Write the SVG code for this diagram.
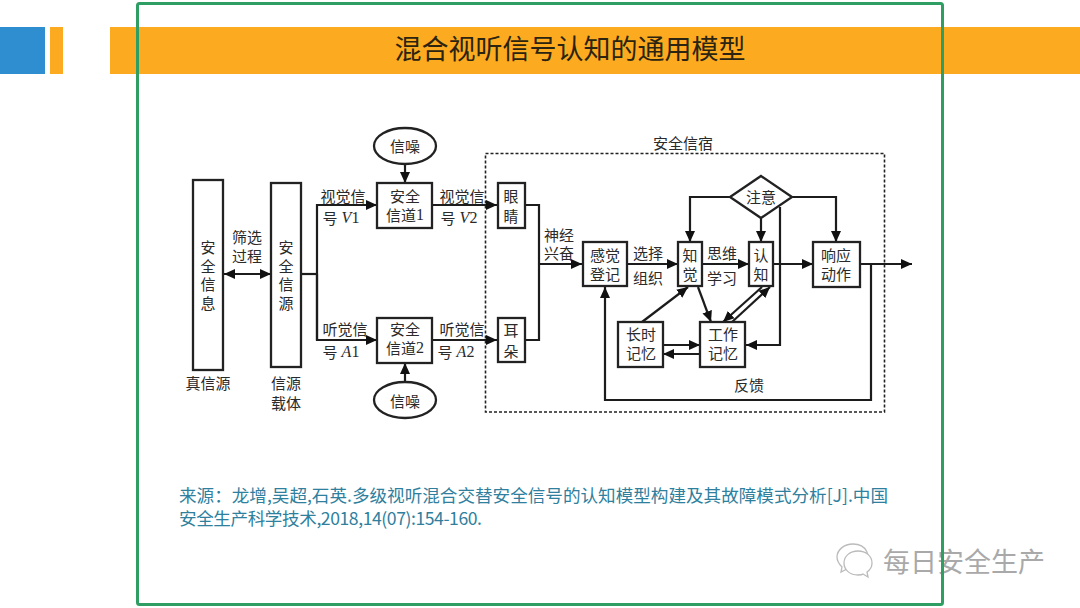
<svg xmlns="http://www.w3.org/2000/svg" width="1080" height="608" viewBox="0 0 1080 608">
<style>
text{font-family:"Noto Sans CJK SC","Noto Sans",sans-serif}
.t{font-size:15px;fill:#2a2a2a;text-anchor:middle;dominant-baseline:central}
.b{fill:#fff;stroke:#222;stroke-width:2.300}
.c path{fill:none;stroke:#1c1c1c;stroke-width:2.200}
.a{marker-end:url(#ah)}
.l{font-family:"Liberation Serif",serif;font-style:italic;font-size:16px}
.n{font-family:"Liberation Serif",serif;font-size:16px}
.w{fill:#fff;stroke:#bbb;stroke-width:1.300}
</style>
<defs><marker id="ah" markerUnits="userSpaceOnUse" markerWidth="12" markerHeight="11" refX="11" refY="5.500" orient="auto"><path d="M0 0.500L11 5.500L0 10.500Z" fill="#111"/></marker>
<marker id="as" markerUnits="userSpaceOnUse" markerWidth="12" markerHeight="11" refX="1" refY="5.500" orient="auto"><path d="M12 0.500L1 5.500L12 10.500Z" fill="#111"/></marker></defs>
<rect width="1080" height="608" fill="#fff"/>
<g id="header">
<rect x="0" y="27" width="45" height="47" fill="#2e8ecf"/>
<rect x="50" y="27" width="13" height="47" fill="#fcaa20"/>
<rect x="110" y="27" width="970" height="47" fill="#fcaa20"/>
<text x="570" y="47" font-size="27" fill="#2b2410" text-anchor="middle" dominant-baseline="central">混合视听信号认知的通用模型</text>
</g>
<g id="region-safe"><rect x="485.500" y="153.500" width="399" height="258.500" fill="none" stroke="#222" stroke-width="1.600" stroke-dasharray="3 2"/><text class="t" x="683" y="142">安全信宿</text></g>
<g class="c" id="connectors">
<path class="a" d="M224 274H271" style="marker-start:url(#as)"/>
<path d="M301 274H317"/>
<path class="a" d="M317 340V205H377"/>
<path class="a" d="M317 274V340H377"/>
<path class="a" d="M405 164V183"/>
<path class="a" d="M405 382V363"/>
<path class="a" d="M432 205H497"/>
<path class="a" d="M432 340H497"/>
<path d="M525 205H539V340H525"/>
<path class="a" d="M539 264H582"/>
<path class="a" d="M627 264H678"/>
<path class="a" d="M702 264H749"/>
<path class="a" d="M773 264H813"/>
<path class="a" d="M860 264H912"/>
<path class="a" d="M730 197H690V242"/>
<path class="a" d="M792 197H836V242"/>
<path class="a" d="M761 218V242"/>
<path class="a" d="M780 207V345H746"/>
<path class="a" d="M871 264V400H605V287"/>
<path class="a" d="M642 322L688 287"/>
<path class="a" d="M698 287L711 322"/>
<path class="a" d="M762 287L723 322"/>
<path class="a" d="M732 322L770 287"/>
<path class="a" d="M663 345H700"/>
<path class="a" d="M700 354H663"/>
</g>
<g id="n-info"><rect class="b" x="193" y="180" width="30" height="190"/><text class="t" y="246"><tspan x="208">安</tspan><tspan x="208" dy="18.500">全</tspan><tspan x="208" dy="18.500">信</tspan><tspan x="208" dy="18.500">息</tspan></text><text class="t" x="208" y="382">真信源</text></g>
<g id="n-filter"><text class="t" y="236"><tspan x="247">筛选</tspan><tspan x="247" dy="19">过程</tspan></text></g>
<g id="n-source"><rect class="b" x="271" y="183" width="30" height="184"/><text class="t" y="246"><tspan x="286">安</tspan><tspan x="286" dy="18.500">全</tspan><tspan x="286" dy="18.500">信</tspan><tspan x="286" dy="18.500">源</tspan></text><text class="t" y="382"><tspan x="286">信源</tspan><tspan x="286" dy="20">载体</tspan></text></g>
<g id="n-noise1"><ellipse class="b" cx="405" cy="146" rx="31" ry="18"/><text class="t" x="405" y="145">信噪</text></g>
<g id="n-noise2"><ellipse class="b" cx="405" cy="400" rx="31" ry="18"/><text class="t" x="405" y="400">信噪</text></g>
<g id="n-channel1"><rect class="b" x="377" y="183" width="55" height="45"/><text class="t" y="195"><tspan x="405">安全</tspan><tspan x="405" dy="19">信道<tspan class="n">1</tspan></tspan></text></g>
<g id="n-channel2"><rect class="b" x="377" y="318" width="55" height="45"/><text class="t" y="328"><tspan x="405">安全</tspan><tspan x="405" dy="19">信道<tspan class="n">2</tspan></tspan></text></g>
<g id="labels"><text class="t" y="195"><tspan x="343">视觉信</tspan><tspan x="341" dy="22">号<tspan class="l"> V</tspan><tspan class="n">1</tspan></tspan></text>
<text class="t" y="195"><tspan x="462">视觉信</tspan><tspan x="459" dy="22">号<tspan class="l"> V</tspan><tspan class="n">2</tspan></tspan></text>
<text class="t" y="328"><tspan x="345">听觉信</tspan><tspan x="341" dy="23">号<tspan class="l"> A</tspan><tspan class="n">1</tspan></tspan></text>
<text class="t" y="328"><tspan x="462">听觉信</tspan><tspan x="456" dy="23">号<tspan class="l"> A</tspan><tspan class="n">2</tspan></tspan></text>
<text class="t" y="234"><tspan x="559">神经</tspan><tspan x="559" dy="18">兴奋</tspan></text>
<text class="t" y="252"><tspan x="648">选择</tspan><tspan x="648" dy="25">组织</tspan></text>
<text class="t" y="252"><tspan x="722">思维</tspan><tspan x="722" dy="25">学习</tspan></text>
<text class="t" x="749" y="384">反馈</text></g>
<g id="n-eye"><rect class="b" x="498" y="183" width="27" height="45"/><text class="t" y="195"><tspan x="511">眼</tspan><tspan x="511" dy="20">睛</tspan></text></g>
<g id="n-ear"><rect class="b" x="498" y="318" width="27" height="44"/><text class="t" y="329"><tspan x="511">耳</tspan><tspan x="511" dy="21">朵</tspan></text></g>
<g id="n-sense"><rect class="b" x="583" y="242" width="44" height="44"/><text class="t" y="254"><tspan x="605">感觉</tspan><tspan x="605" dy="19">登记</tspan></text></g>
<g id="n-percept"><rect class="b" x="678" y="242" width="24" height="44"/><text class="t" y="254"><tspan x="690">知</tspan><tspan x="690" dy="19">觉</tspan></text></g>
<g id="n-cognition"><rect class="b" x="749" y="242" width="24" height="44"/><text class="t" y="254"><tspan x="761">认</tspan><tspan x="761" dy="19">知</tspan></text></g>
<g id="n-response"><rect class="b" x="813" y="242" width="47" height="45"/><text class="t" y="254"><tspan x="836">响应</tspan><tspan x="836" dy="19">动作</tspan></text></g>
<g id="n-attention"><path class="b" d="M761 176L792 197L761 218L730 197Z"/><text class="t" x="761" y="196">注意</text></g>
<g id="n-long"><rect class="b" x="618" y="322" width="45" height="45"/><text class="t" y="333"><tspan x="641">长时</tspan><tspan x="641" dy="19">记忆</tspan></text></g>
<g id="n-work"><rect class="b" x="700" y="322" width="45" height="45"/><text class="t" y="333"><tspan x="723">工作</tspan><tspan x="723" dy="19">记忆</tspan></text></g>
<g id="source-note"><text x="179" y="502" font-size="17.600" fill="#2f7f9e" textLength="709">来源：龙增,吴超,石英.多级视听混合交替安全信号的认知模型构建及其故障模式分析[J].中国</text><text x="179" y="525" font-size="17.600" fill="#2f7f9e" textLength="303">安全生产科学技术,2018,14(07):154-160.</text></g>
<g id="watermark">
<path class="w" d="M853 544c-9 0-16 6-16 13 0 4 2 7 5 10l-1 5 6-3c2 1 4 1 6 1 6 0 11-3 14-8 3-4 1-18-14-18z"/>
<path class="w" d="M858 551c-8 0-14 5-14 12s6 12 14 12c2 0 4 0 5-1l5 3-1-5c3-2 5-5 5-9 0-7-6-12-14-12z"/>
<text x="883" y="560" font-size="27" fill="#a9a9a9" dominant-baseline="central">每日安全生产</text>
</g>
<rect id="frame" x="137.500" y="3.500" width="805" height="601" rx="2" fill="none" stroke="#2f9e62" stroke-width="3"/>
</svg>
